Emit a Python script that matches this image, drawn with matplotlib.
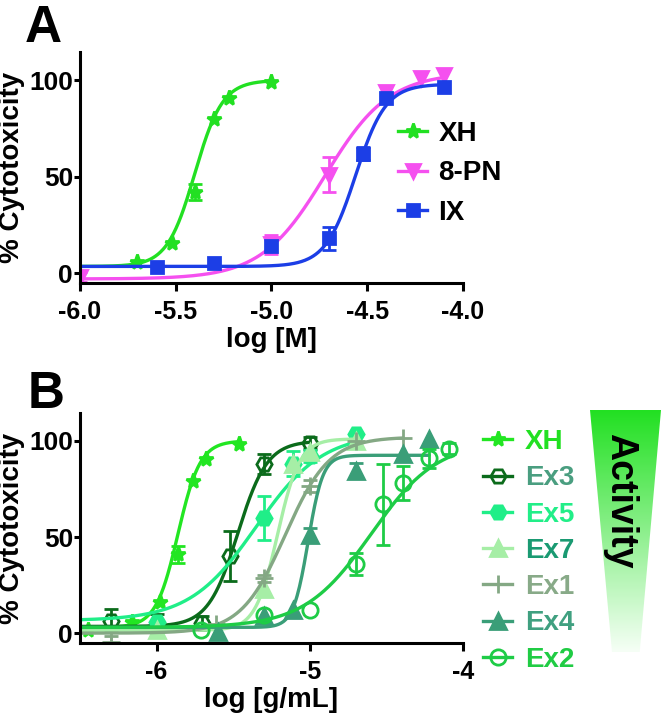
import numpy as np
import matplotlib
matplotlib.use('Agg')
import matplotlib.pyplot as plt
from matplotlib.lines import Line2D
from matplotlib.patches import Polygon

plt.rcParams['font.family'] = ['Liberation Sans', 'DejaVu Sans']
plt.rcParams['font.weight'] = 'bold'
plt.rcParams['axes.labelweight'] = 'bold'
plt.rcParams['axes.unicode_minus'] = False

# ---- Panel A: log [M] ----
xh_a_x = [-5.70, -5.52, -5.40, -5.30, -5.22, -5.00]
xh_a_y = [5.7, 15.5, 42, 80, 91, 99]
xh_a_err = [0, 0, 4, 0, 0, 0]
xh_a_fit = [3.5, 100, -5.40, 6]          # bottom, top, logEC50, hill

pn_a_x = [-6.00, -5.00, -4.70, -4.40, -4.22, -4.10]
pn_a_y = [-2, 15, 51, 94, 101, 102.5]
pn_a_err = [2.5, 5, 9, 0, 0, 0]
pn_a_fit = [-3, 104, -4.72, 2.6]

ix_a_x = [-5.60, -5.30, -5.00, -4.70, -4.52, -4.40, -4.10]
ix_a_y = [3, 5.5, 14, 18, 62, 91, 96.5]
ix_a_err = [0, 0, 0, 6, 3.5, 0, 0]
ix_a_fit = [3.5, 98, -4.56, 5.5]

# ---- Panel B: log [g/mL] ----
xh_b_x = [-6.45, -6.16, -5.98, -5.86, -5.76, -5.68, -5.46]
xh_b_y = [1.5, 5.7, 16, 41, 79, 90.5, 98.5]
xh_b_err = [0, 0, 0, 4.5, 0, 0, 0]
xh_b_fit = [3, 100, -5.86, 6]

ex3_x = [-6.30, -6.00, -5.70, -5.52, -5.30, -5.00]
ex3_y = [6.5, 4, 5.5, 40, 88, 99]
ex3_err = [6, 6, 3.5, 13, 5, 3]
ex3_fit = [3.5, 100, -5.47, 4.5]

ex5_x = [-6.00, -5.30, -5.11, -5.00, -4.70]
ex5_y = [6, 60, 88, 92, 103.5]
ex5_err = [0, 11.5, 6.5, 3, 0]
ex5_fit = [6.5, 104, -5.35, 2]

ex7_x = [-6.00, -5.30, -5.11, -5.00, -4.70]
ex7_y = [1.5, 23, 88, 94, 100]
ex7_err = [0, 0, 0, 0, 0]
ex7_fit = [1.5, 101, -5.21, 6]

ex1_x = [-6.30, -5.61, -5.30, -5.00, -4.70, -4.39]
ex1_y = [-4.5, 5, 28.5, 76.5, 100, 101.5]
ex1_err = [3, 0, 2, 3, 0, 0]
ex1_fit = [0, 102, -5.16, 3]

ex4_x = [-5.60, -5.30, -5.11, -5.00, -4.70, -4.39, -4.22]
ex4_y = [0.5, 9, 12, 51, 84.5, 93, 101]
ex4_err = [0, 0, 0, 3.5, 4, 0, 0]
ex4_fit = [3, 92.5, -5.01, 9]

ex2_x = [-5.71, -5.30, -5.00, -4.70, -4.52, -4.39, -4.22, -4.09]
ex2_y = [1.5, 9.3, 12, 36, 67, 78, 91, 96]
ex2_err = [0, 0, 0, 5.5, 21, 9, 5, 3]
ex2_fit = [3, 100, -4.60, 2.0]


def logistic(x, bottom, top, logec50, hill):
    return bottom + (top - bottom) / (1 + 10 ** ((logec50 - x) * hill))


def draw(ax, x0, x, y, err, fit, color, marker, ms, mfc):
    x = np.asarray(x); y = np.asarray(y); err = np.asarray(err, float)
    xs = np.linspace(x0, x.max(), 300)
    ax.plot(xs, logistic(xs, *fit), color=color, lw=2.4, solid_capstyle='round')
    m = err > 0
    if m.any():
        ax.errorbar(x[m], y[m], yerr=err[m], fmt='none', ecolor=color,
                    elinewidth=2, capsize=5, capthick=2)
    ax.plot(x, y, ls='none', marker=marker, ms=ms, color=color, mfc=mfc,
            mec=color, mew=2)
    return Line2D([], [], color=color, lw=2.4, marker=marker, ms=ms,
                  mfc=mfc, mec=color, mew=2)


def style(ax, xticks, fmt):
    for s in ['top', 'right']:
        ax.spines[s].set_visible(False)
    for s in ['left', 'bottom']:
        ax.spines[s].set_linewidth(2.2)
    ax.set_ylim(-5.2, 114.5)
    ax.set_yticks([0, 50, 100])
    ax.set_yticklabels(['0', '50', '100'], fontweight='bold')
    ax.set_xticks(xticks)
    ax.set_xticklabels([fmt % t for t in xticks], fontweight='bold')
    ax.tick_params(axis='x', length=6, width=2.2, pad=6, labelsize=18)
    ax.tick_params(axis='y', length=4, width=2.2, pad=1, labelsize=19)
    ax.set_ylabel('% Cytotoxicity', fontsize=20, fontweight='bold', labelpad=3)


fig = plt.figure(figsize=(6.66, 7.17), dpi=100)

# Panel A
axA = fig.add_axes([0.120, 0.605, 0.575, 0.322])
hA = []
hA.append(draw(axA, -6.0, xh_a_x, xh_a_y, xh_a_err, xh_a_fit, '#22e022', '*', 11, '#22e022'))
hA.append(draw(axA, -6.0, pn_a_x, pn_a_y, pn_a_err, pn_a_fit, '#f550ef', 'v', 10, '#f550ef'))
hA.append(draw(axA, -6.0, ix_a_x, ix_a_y, ix_a_err, ix_a_fit, '#1c3ee6', 's', 9, '#1c3ee6'))
axA.set_xlim(-6.0, -4.0)
style(axA, [-6.0, -5.5, -5.0, -4.5, -4.0], '%.1f')
axA.set_xlabel('log [M]', fontsize=20, fontweight='bold', labelpad=2)
fig.legend(hA, ['XH', '8-PN', 'IX'], loc='upper left',
           bbox_to_anchor=(398 / 666, 1 - 121 / 717), frameon=False,
           prop={'size': 20, 'weight': 'bold'}, handlelength=1.05,
           handletextpad=0.4, labelspacing=0.48, borderpad=0, borderaxespad=0)
fig.text(25 / 666, 1 - 42 / 717, 'A', fontsize=37, fontweight='bold')

# Panel B
axB = fig.add_axes([0.120, 0.103, 0.575, 0.321])
hB = []
hB.append(draw(axB, -6.5, xh_b_x, xh_b_y, xh_b_err, xh_b_fit, '#22e622', '*', 11, '#22e622'))
hB.append(draw(axB, -6.5, ex3_x, ex3_y, ex3_err, ex3_fit, '#0b6b1b', 'H', 11, 'none'))
hB.append(draw(axB, -6.5, ex5_x, ex5_y, ex5_err, ex5_fit, '#20ee88', 'H', 11, '#20ee88'))
hB.append(draw(axB, -6.5, ex7_x, ex7_y, ex7_err, ex7_fit, '#a6eea6', '^', 11, '#a6eea6'))
hB.append(draw(axB, -6.5, ex1_x, ex1_y, ex1_err, ex1_fit, '#84a884', '+', 13, '#84a884'))
hB.append(draw(axB, -6.5, ex4_x, ex4_y, ex4_err, ex4_fit, '#3a9e78', '^', 11, '#3a9e78'))
hB.append(draw(axB, -6.5, ex2_x, ex2_y, ex2_err, ex2_fit, '#1ecc46', 'o', 11, 'none'))
axB.set_xlim(-6.5, -4.0)
style(axB, [-6, -5, -4], '%d')
axB.set_xlabel('log [g/mL]', fontsize=20, fontweight='bold', labelpad=2)
labB = ['XH', 'Ex3', 'Ex5', 'Ex7', 'Ex1', 'Ex4', 'Ex2']
colB = ['#22e022', '#4a9e80', '#22ee88', '#1a9a72', '#88aa88', '#40a080', '#20cc44']
fig.legend(hB, labB, loc='upper left', labelcolor=colB,
           bbox_to_anchor=(483 / 666, 1 - 429 / 717), frameon=False,
           prop={'size': 20, 'weight': 'bold'}, handlelength=1.05,
           handletextpad=0.45, labelspacing=0.37, borderpad=0, borderaxespad=0)
fig.text(28 / 666, 1 - 408 / 717, 'B', fontsize=37, fontweight='bold')

# Activity wedge
axW = fig.add_axes([590 / 666, (717 - 652) / 717, 71 / 666, 242 / 717])
axW.set_xlim(0, 1)
axW.set_ylim(0, 1)
axW.axis('off')
top_c = np.array([0x22, 0xe0, 0x22]) / 255
bot_c = np.array([0xf6, 0xff, 0xf6]) / 255
t = np.linspace(0, 1, 256)[:, None]
grad = (top_c * (1 - t) + bot_c * t)[:, None, :]
im = axW.imshow(grad, extent=[0, 1, 0, 1], aspect='auto', origin='upper')
wedge = Polygon([(0, 1), (1, 1), (0.70, 0), (0.31, 0)], closed=True,
                facecolor='none', edgecolor='none', transform=axW.transData)
axW.add_patch(wedge)
im.set_clip_path(wedge)
fig.text(620 / 666, 1 - 501 / 717, 'Activity', rotation=-90, fontsize=27,
         fontweight='bold', ha='center', va='center')

fig.savefig('out.png', dpi=100)
